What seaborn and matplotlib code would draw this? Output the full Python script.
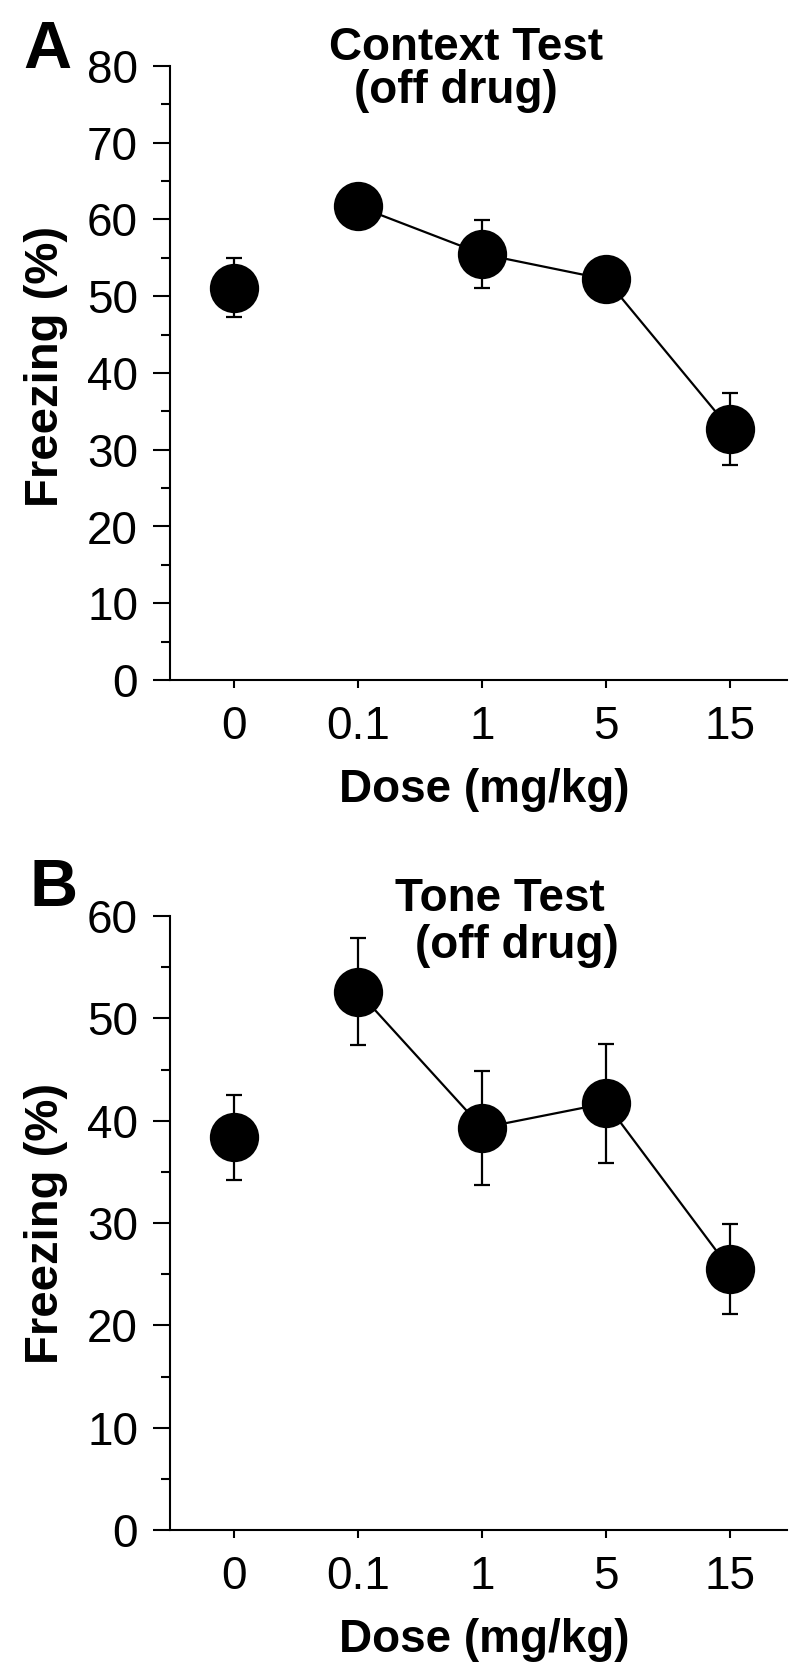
import matplotlib
matplotlib.use("Agg")
import matplotlib.pyplot as plt
import seaborn as sns
import pandas as pd
import numpy as np
from matplotlib.ticker import MultipleLocator

# ---- data ----
dose_labels = ["0", "0.1", "1", "5", "15"]
context_mean = [51.1, 61.7, 55.5, 52.2, 32.7]
context_sem = [3.85, 2.0, 4.45, 1.5, 4.75]
tone_mean = [38.4, 52.6, 39.3, 41.7, 25.5]
tone_sem = [4.15, 5.25, 5.6, 5.8, 4.4]

sns.set_style("ticks")
plt.rcParams["font.family"] = ["Liberation Sans", "DejaVu Sans"]
plt.rcParams["text.color"] = "black"
plt.rcParams["axes.labelcolor"] = "black"
plt.rcParams["xtick.color"] = "black"
plt.rcParams["ytick.color"] = "black"
plt.rcParams["axes.edgecolor"] = "black"

W, H = 800, 1676
fig = plt.figure(figsize=(W / 100, H / 100), dpi=100)

ax_left = 170 / W
ax_w = (787 - 170) / W
ax_h = 614 / H
axA = fig.add_axes([ax_left, 1 - 680 / H, ax_w, ax_h])
axB = fig.add_axes([ax_left, 1 - 1530 / H, ax_w, ax_h])


def draw(ax, means, sems, ymax, ylab_y):
    df = pd.DataFrame({
        "pos": np.arange(len(dose_labels)),
        "dose": dose_labels,
        "freezing": means,
        "sem": sems,
    })
    ax.errorbar(df["pos"], df["freezing"], yerr=df["sem"], fmt="none",
                ecolor="black", elinewidth=1.6, capsize=6, capthick=1.6,
                zorder=2, clip_on=False)
    sns.lineplot(data=df.iloc[1:], x="pos", y="freezing", ax=ax,
                 color="black", linewidth=1.6, zorder=3, legend=False)
    sns.scatterplot(data=df, x="pos", y="freezing", ax=ax, color="black",
                    s=35.5 ** 2, linewidth=0, zorder=4, legend=False,
                    clip_on=False)
    ax.set_xlim(-0.52, 4.46)
    ax.set_ylim(0, ymax)
    ax.set_xticks(df["pos"])
    ax.set_xticklabels(dose_labels)
    ax.yaxis.set_major_locator(MultipleLocator(10))
    ax.yaxis.set_minor_locator(MultipleLocator(5))
    for s in ["top", "right"]:
        ax.spines[s].set_visible(False)
    for s in ["left", "bottom"]:
        ax.spines[s].set_linewidth(1.5)
        ax.spines[s].set_color("black")
    ax.tick_params(axis="y", which="major", length=12, width=1.5,
                   labelsize=33, pad=11, direction="out", colors="black")
    ax.tick_params(axis="y", which="minor", length=6.5, width=1.5,
                   direction="out", colors="black")
    ax.tick_params(axis="x", which="major", length=6, width=1.5,
                   labelsize=33, pad=12, direction="out", colors="black")
    ax.set_xlabel("Dose (mg/kg)", fontsize=33, fontweight="bold",
                  color="black")
    ax.xaxis.set_label_coords(0.51, -122 / 614)
    ax.xaxis.label.set_verticalalignment("baseline")
    ax.set_ylabel("Freezing (%)", fontsize=34, fontweight="bold",
                  color="black")
    ax.yaxis.set_label_coords((46 - 170) / 617, ylab_y)
    ax.yaxis.label.set_verticalalignment("center")


draw(axA, context_mean, context_sem, 80, 0.51)
draw(axB, tone_mean, tone_sem, 60, 0.5)

# panel letters
fig.text(23 / W, 1 - 20 / H, "A", fontsize=48, fontweight="bold",
         ha="left", va="top", color="black")
fig.text(30 / W, 1 - 858 / H, "B", fontsize=48, fontweight="bold",
         ha="left", va="top", color="black")

# titles
fig.text(466 / W, 1 - 60 / H, "Context Test", fontsize=33,
         fontweight="bold", ha="center", va="baseline", color="black")
fig.text(456 / W, 1 - 103 / H, "(off drug)", fontsize=33,
         fontweight="bold", ha="center", va="baseline", color="black")
fig.text(500 / W, 1 - 911 / H, "Tone Test", fontsize=33,
         fontweight="bold", ha="center", va="baseline", color="black")
fig.text(517 / W, 1 - 958 / H, "(off drug)", fontsize=33,
         fontweight="bold", ha="center", va="baseline", color="black")

fig.savefig("out.png", dpi=100, facecolor="white")
